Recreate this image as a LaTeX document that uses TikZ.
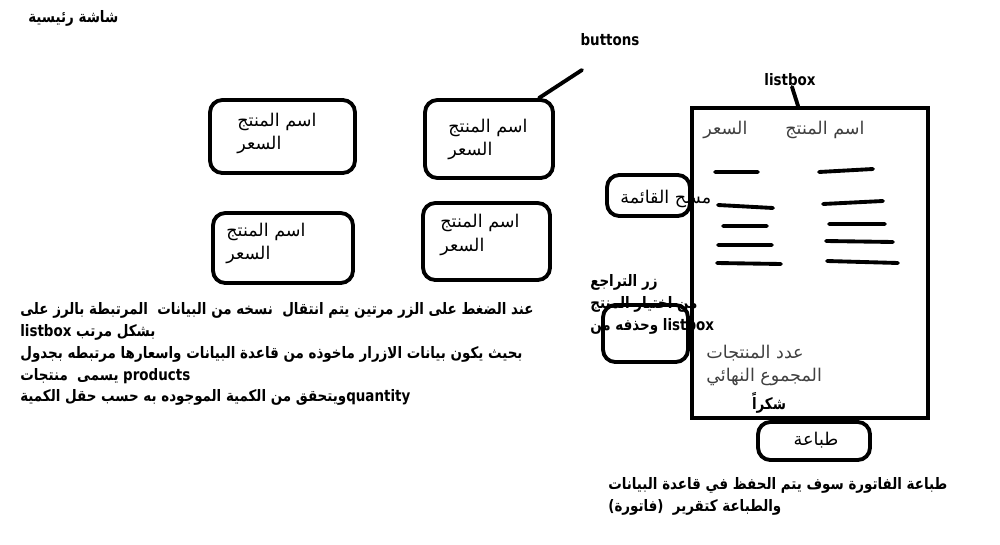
\documentclass[tikz,border=0pt]{standalone}
\usepackage{fontspec}
\usetikzlibrary{calc}
\TeXXeTstate=1
\newfontfamily\arabicfont[Script=Arabic]{DejaVu Sans}
\newfontfamily\arabicnarrow[Script=Arabic, FakeStretch=0.85]{DejaVu Sans}
\newfontfamily\latinfont[FakeStretch=0.85]{DejaVu Sans}
\newcommand{\ar}[1]{\beginR#1\endR}
\newcommand{\lat}[1]{\beginL{\latinfont\bfseries #1}\endL}

\begin{document}
\begin{tikzpicture}[x=0.02cm, y=-0.02cm,
    btn/.style={draw, line width=2.2pt, rounded corners=7pt},
    pointer/.style={line width=2.2pt, line cap=round},
    note/.style={font=\arabicnarrow\bfseries\fontsize{9}{12.5}\selectfont, align=left, inner sep=0pt},
    plain/.style={font=\arabicfont\fontsize{10}{13.5}\selectfont, align=left, inner sep=0pt},
    grey/.style={plain, text=black!75},
    tag/.style={font=\latinfont\bfseries\fontsize{9}{11}\selectfont, inner sep=0pt}]
    \useasboundingbox (0,0) rectangle (1000,544);
    \node[note, anchor=west] (title) at (28,18) {\ar{شاشة رئيسية}};
    \node[tag] (buttons) at (610,40) {buttons};
    \node[btn, minimum width=2.9cm, minimum height=1.46cm] (prod1) at (282.5,136.5) {};
    \node[btn, minimum width=2.56cm, minimum height=1.56cm] (prod2) at (489,139) {};
    \node[btn, minimum width=2.8cm, minimum height=1.4cm] (prod3) at (283,248) {};
    \node[btn, minimum width=2.54cm, minimum height=1.54cm] (prod4) at (486.5,241.5) {};
    \node[plain, anchor=west] (prod1txt) at (237,133.5) {\ar{اسم المنتج}\\\ar{السعر}};
    \node[plain, anchor=west] (prod2txt) at (448,139.5) {\ar{اسم المنتج}\\\ar{السعر}};
    \node[plain, anchor=west] (prod3txt) at (226,243.5) {\ar{اسم المنتج}\\\ar{السعر}};
    \node[plain, anchor=west] (prod4txt) at (440,235) {\ar{اسم المنتج}\\\ar{السعر}};
    \coordinate (btnend) at (582,70);
    \draw[pointer] (btnend) -- ($(prod2.north east)+(-16,0)$);
    \node[draw, line width=2.2pt, minimum width=4.72cm, minimum height=6.2cm] (lstbox) at (810,263) {};
    \node[tag] (lsttitle) at (790,80) {listbox};
    \coordinate (lstend) at (792,87);
    \draw[pointer] (lstend) -- ($(lstbox.north west)+(108,0)$);
    \node[grey, anchor=west] (pricehd) at (703,130) {\ar{السعر}};
    \node[grey, anchor=west] (namehd) at (785,130) {\ar{اسم المنتج}};
    \draw[pointer] (715,172) -- (758,172) (718,205) -- (773,208) (723,226) -- (767,226) (718,245) -- (772,245) (717,263) -- (781,264);
    \draw[pointer] (819,172) -- (873,169) (823,204) -- (883,201) (829,224) -- (885,224) (826,241) -- (893,242) (827,261) -- (898,263);
    \node[btn, minimum width=1.66cm, minimum height=0.82cm] (clearbtn) at (648.5,195.5) {};
    \node[plain, anchor=west] (cleartxt) at (620,199) {\ar{مسح القائمة}};
    \node[btn, minimum width=1.7cm, minimum height=1.14cm] (undobtn) at (645.5,333.5) {};
    \node[note, anchor=west] (undotxt) at (590,304.5) {\ar{زر التراجع}\\\ar{من اختيار المنتج}\\\ar{\lat{listbox} وحذفه من}};
    \node[grey, anchor=west] (totals) at (706,365.5) {\ar{عدد المنتجات}\\\ar{المجموع النهائي}};
    \node[note] (thanks) at (769,403) {\ar{شكراً}};
    \node[btn, minimum width=2.24cm, minimum height=0.76cm] (printbtn) at (814,441) {};
    \node[plain] (printtxt) at (816,440) {\ar{طباعة}};
    \node[note, anchor=west] (desc) at (20,354) {\ar{عند الضغط على الزر مرتين يتم انتقال\ \ نسخه من البيانات\ \ المرتبطة بالرز على}\\\ar{بشكل مرتب \lat{listbox}}\\\ar{بحيث يكون بيانات الازرار ماخوذه من قاعدة البيانات واسعارها مرتبطه بجدول}\\\ar{\lat{products} يسمى\ \ منتجات}\\\ar{\lat{quantity}ويتحقق من الكمية الموجوده به حسب حقل الكمية}};
    \node[note, anchor=west] (printnote) at (608,496) {\ar{طباعة الفاتورة سوف يتم الحفظ في قاعدة البيانات}\\\ar{والطباعة كتقرير\ \ (فاتورة)}};
\end{tikzpicture}
\end{document}
